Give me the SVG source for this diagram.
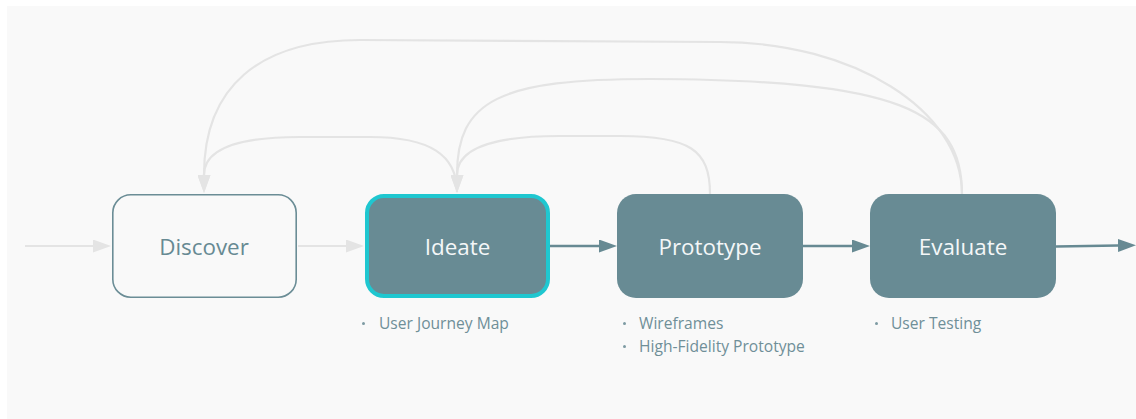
<svg xmlns="http://www.w3.org/2000/svg" width="1136" height="419" viewBox="0 0 1136 419">
  <defs>
    <style>
      .bg { fill: #f9f9f9; }
      .node-outline { fill: #f9f9f9; stroke: #6b8d96; stroke-width: 1.6; }
      .node-solid { fill: #688b94; }
      .node-active { fill: #688b94; stroke: #1fc7d0; stroke-width: 4; }
      .label { font-family: "Open Sans", "Liberation Sans", sans-serif; font-size: 22.4px; text-anchor: middle; dominant-baseline: central; }
      .label-dark { fill: #678a93; }
      .label-light { fill: #f4f7f8; }
      .note { font-family: "Open Sans", "Liberation Sans", sans-serif; font-size: 15.6px; fill: #6f8f98; }
      .dot { fill: #7d9aa2; }
      .flow-muted { fill: none; stroke: #e4e4e4; stroke-width: 2.2; }
      .flow-main { fill: none; stroke: #678a93; stroke-width: 2.4; }
    </style>
    <marker id="head-muted" viewBox="0 0 18 13" refX="0" refY="6.5" markerWidth="18" markerHeight="13" markerUnits="userSpaceOnUse" orient="auto">
      <path d="M0,0 L18,6.5 L0,13 Z" fill="#e4e4e4"/>
    </marker>
    <marker id="head-main" viewBox="0 0 18 13" refX="0" refY="6.5" markerWidth="18" markerHeight="13" markerUnits="userSpaceOnUse" orient="auto">
      <path d="M0,0 L18,6.5 L0,13 Z" fill="#678a93"/>
    </marker>
  </defs>

  <rect x="0" y="0" width="1136" height="419" fill="#ffffff"/>
  <rect class="bg" x="7" y="6" width="1129" height="413"/>

  <!-- connectors -->
  <g id="connectors">
    <!-- entry and forward flow -->
    <path class="flow-muted" d="M25,246 L93,246" marker-end="url(#head-muted)"/>
    <path class="flow-muted" d="M298,246 L346,246" marker-end="url(#head-muted)"/>
    <path class="flow-main" d="M550,246 L599,246" marker-end="url(#head-main)"/>
    <path class="flow-main" d="M803,246 L852,246" marker-end="url(#head-main)"/>
    <path class="flow-main" d="M1056,246.5 L1118,245.5" marker-end="url(#head-main)"/>
    <!-- feedback loops -->
    <path class="flow-muted" d="M962,194 C962,110 853,42 720,42 L360,40 C259,40 204,87 204,175" marker-end="url(#head-muted)"/>
    <path class="flow-muted" d="M962,194 C962,110 900,80 650,79 C500,79 457,100 457,175" marker-end="url(#head-muted)"/>
    <path class="flow-muted" d="M710,194 C710,150 690,136 620,136 L560,136 C490,136 457,150 457,175" marker-end="url(#head-muted)"/>
    <path class="flow-muted" d="M457,192 C457,155 430,137 370,137 L300,137 C240,137 204,148 204,175" marker-end="url(#head-muted)"/>
  </g>

  <!-- stages -->
  <g id="node-discover">
    <rect class="node-outline" x="112.8" y="194.8" width="183.4" height="102.4" rx="18" ry="18"/>
    <text class="label label-dark" x="204" y="246">Discover</text>
  </g>

  <g id="node-ideate">
    <rect class="node-active" x="367" y="196" width="181" height="100" rx="17" ry="17"/>
    <text class="label label-light" x="457.5" y="246">Ideate</text>
    <circle class="dot" cx="363.5" cy="323.5" r="1.5"/>
    <text class="note" x="379" y="329">User Journey Map</text>
  </g>

  <g id="node-prototype">
    <rect class="node-solid" x="617" y="194" width="186" height="104" rx="19" ry="19"/>
    <text class="label label-light" x="710" y="246">Prototype</text>
    <circle class="dot" cx="624.5" cy="323.5" r="1.5"/>
    <text class="note" x="639" y="329">Wireframes</text>
    <circle class="dot" cx="624.5" cy="346.5" r="1.5"/>
    <text class="note" x="639" y="352">High-Fidelity Prototype</text>
  </g>

  <g id="node-evaluate">
    <rect class="node-solid" x="870" y="194" width="186" height="104" rx="19" ry="19"/>
    <text class="label label-light" x="963" y="246">Evaluate</text>
    <circle class="dot" cx="876.5" cy="323.5" r="1.5"/>
    <text class="note" x="891" y="329">User Testing</text>
  </g>
</svg>
